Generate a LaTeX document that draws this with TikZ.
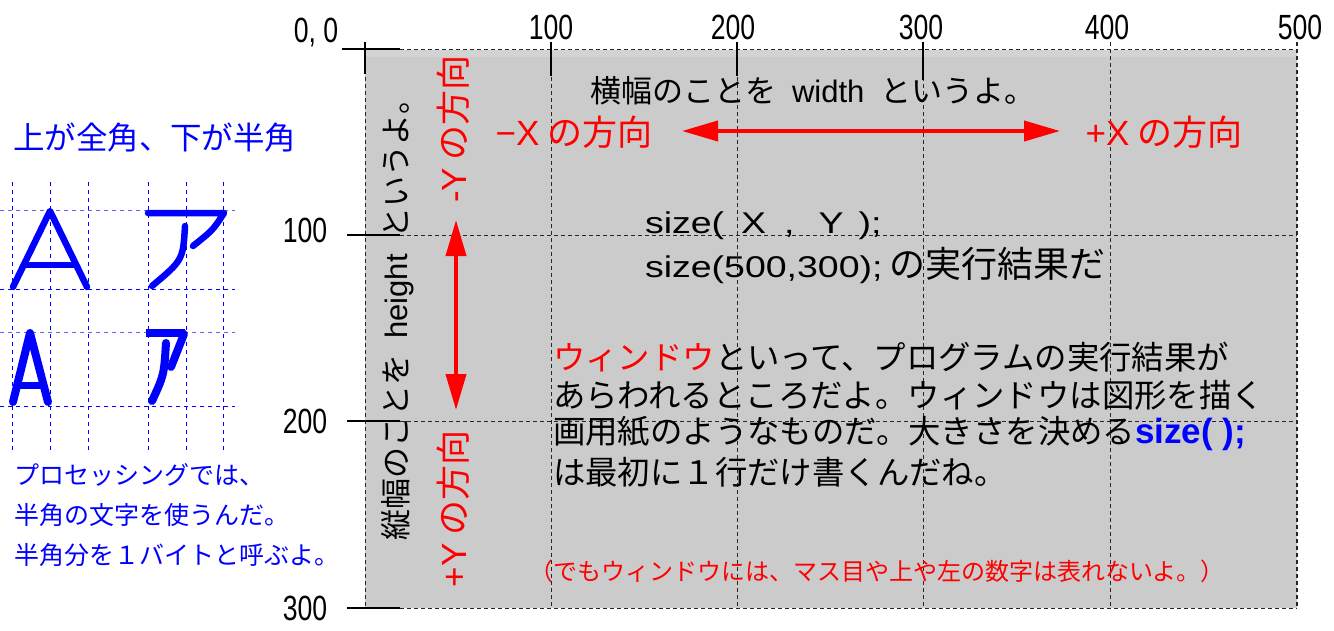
\documentclass[tikz,border=0pt]{standalone}
\usepackage{fontspec}
\setmainfont{Noto Sans CJK JP}
\newfontfamily\lat{Liberation Sans}
\newfontfamily\latw[FakeStretch=1.25]{Liberation Sans}
\newfontfamily\numf[FakeStretch=0.76]{Liberation Sans}
\usetikzlibrary{arrows.meta}
\definecolor{winGray}{HTML}{CBCBCB}
\definecolor{winLight}{HTML}{D3D3D3}
\definecolor{softblue}{HTML}{6060FF}
\newcommand{\fsz}[1]{\fontsize{#1pt}{#1pt}\selectfont}
\begin{document}
\begin{tikzpicture}[x=1pt,y=-1pt,
  grid/.style={dash pattern=on 4pt off 3pt, line width=0.9pt, black!85},
  tickline/.style={line width=1.2pt, black},
  bgrid/.style={dash pattern=on 4pt off 4pt, line width=0.9pt, blue},
  glyph/.style={blue, line width=6.5pt, line cap=round, line join=round},
  dirarrow/.style={red, line width=4pt, {Triangle[length=36pt,width=20pt]}-{Triangle[length=36pt,width=20pt]}},
  lbl/.style={inner sep=0pt, outer sep=0pt},
  axnum/.style={lbl, font=\numf\fsz{35}},
]
\useasboundingbox (0,0) rectangle (1334,630);

% window area
\fill[winGray] (365,50) rectangle (1297,608);
\fill[winLight] (365,50) rectangle (1297,57);

% dashed grid
\draw[grid] (365,49) -- (1297,49);
\draw[grid] (365,608) -- (1297,608);
\foreach \gx in {365,551,737,923,1110} { \draw[grid] (\gx,42) -- (\gx,608); }
\draw[grid, line width=2pt] (1297,42) -- (1297,608);
\draw[grid] (365,235) -- (1297,235);
\draw[grid] (365,421) -- (1297,421);

% solid ticks
\draw[tickline] (342,49) -- (400,49);
\draw[tickline] (365,42) -- (365,74);
\draw[tickline] (551,42) -- (551,76);
\draw[tickline] (737,42) -- (737,76);
\draw[tickline] (923,42) -- (923,80);
\draw[tickline] (347,235) -- (400,235);
\draw[tickline] (347,421) -- (400,421);
\draw[tickline] (347,608) -- (400,608);

% axis labels
\node[axnum] (n00) at (316,33) {0, 0};
\node[axnum] (t100) at (551,27) {100};
\node[axnum] (t200) at (733,27) {200};
\node[axnum] (t300) at (921,27) {300};
\node[axnum] (t400) at (1107,27) {400};
\node[axnum] (t500) at (1300,27) {500};
\node[axnum] (l100) at (305,230) {100};
\node[axnum] (l200) at (305,421) {200};
\node[axnum] (l300) at (305,608) {300};

% left blue grid
\foreach \bx in {12,50,88,148,186,223} { \draw[bgrid] (\bx,182) -- (\bx,450); }
\draw[bgrid, softblue] (0,210) -- (235,210);
\draw[bgrid] (0,289) -- (235,289);
\draw[bgrid, softblue] (0,332) -- (235,332);
\draw[bgrid] (0,406) -- (235,406);

% full-width A and a
\draw[glyph] (13,287) -- (50,211) -- (87,287);
\draw[glyph] (24,265) -- (76,265);
\draw[glyph] (148,213) -- (224,213) .. controls (213,230) .. (193,246);
\draw[glyph] (185,226) .. controls (183,260) .. (152,286);
% half-width A and a
\draw[glyph, line width=8pt] (13,402) -- (30,333) -- (48,402);
\draw[glyph, line width=7pt] (18,385) -- (43,385);
\draw[glyph, line width=8pt, line cap=butt] (146,333) -- (185,333);
\draw[glyph, line width=8pt] (184,334) -- (171,367);
\draw[glyph, line width=8pt] (166,343) .. controls (164,375) .. (152,401);

% left blue texts
\node[lbl, anchor=west, blue, font=\fsz{31.5}] (zen) at (13,138) {上が全角、下が半角};
\node[lbl, anchor=west, blue, font=\fsz{25}] (p1) at (15,475) {プロセッシングでは、};
\node[lbl, anchor=west, blue, font=\fsz{25}] (p2) at (15,515) {半角の文字を使うんだ。};
\node[lbl, anchor=west, blue, font=\fsz{25}] (p3) at (15,555) {半角分を１バイトと呼ぶよ。};

% width / height texts
\node[lbl, anchor=west, font=\fsz{31}] (wtxt) at (590,91) {横幅のことを\hspace{16pt}{\lat width}\hspace{16pt}というよ。};
\node[lbl, rotate=90, font=\fsz{31}] (htxt) at (398,312) {縦幅のことを\hspace{16pt}{\lat height}\hspace{16pt}というよ。};

% direction labels
\node[lbl, red, font=\fsz{35}] (mx) at (574,132) {{\lat −X} の方向};
\node[lbl, red, font=\fsz{35}] (px) at (1164,132) {{\lat +X} の方向};
\node[lbl, red, rotate=90, font=\fsz{35}] (my) at (453,129) {{\lat -Y} の方向};
\node[lbl, red, rotate=90, font=\fsz{35}] (py) at (453,509) {{\lat +Y} の方向};

% arrows
\coordinate (xl) at (682,131);
\coordinate (xr) at (1060,131);
\draw[dirarrow] (xl) -- (xr);
\coordinate (yt) at (456,220);
\coordinate (yb) at (456,410);
\draw[dirarrow] (yt) -- (yb);

% size lines
\node[lbl, anchor=base west, font=\latw\fsz{30}] (s1) at (645,233) {size(\hspace{17pt}X\hspace{18pt},\hspace{24pt}Y\hspace{15pt});};
\node[lbl, anchor=base west, font=\fsz{30}] (s2) at (645,277) {{\latw size(500,300);} {\fsz{36}の実行結果だ}};

% paragraph
\node[lbl, anchor=west, font=\fsz{32.4}] (w1) at (553,357) {{\color{red}ウィンドウ}といって、プログラムの実行結果が};
\node[lbl, anchor=west, font=\fsz{32.4}] (w2) at (553,395) {あらわれるところだよ。ウィンドウは図形を描く};
\node[lbl, anchor=west, font=\fsz{32.4}] (w3) at (553,433) {画用紙のようなものだ。大きさを決める{\lat\bfseries\color{blue}\fsz{35}size( );}};
\node[lbl, anchor=west, font=\fsz{32.4}] (w4) at (553,472) {は最初に１行だけ書くんだね。};

% note
\node[lbl, anchor=west, red, font=\fsz{24}] (note) at (529,571) {（でもウィンドウには、マス目や上や左の数字は表れないよ。）};
\end{tikzpicture}
\end{document}
